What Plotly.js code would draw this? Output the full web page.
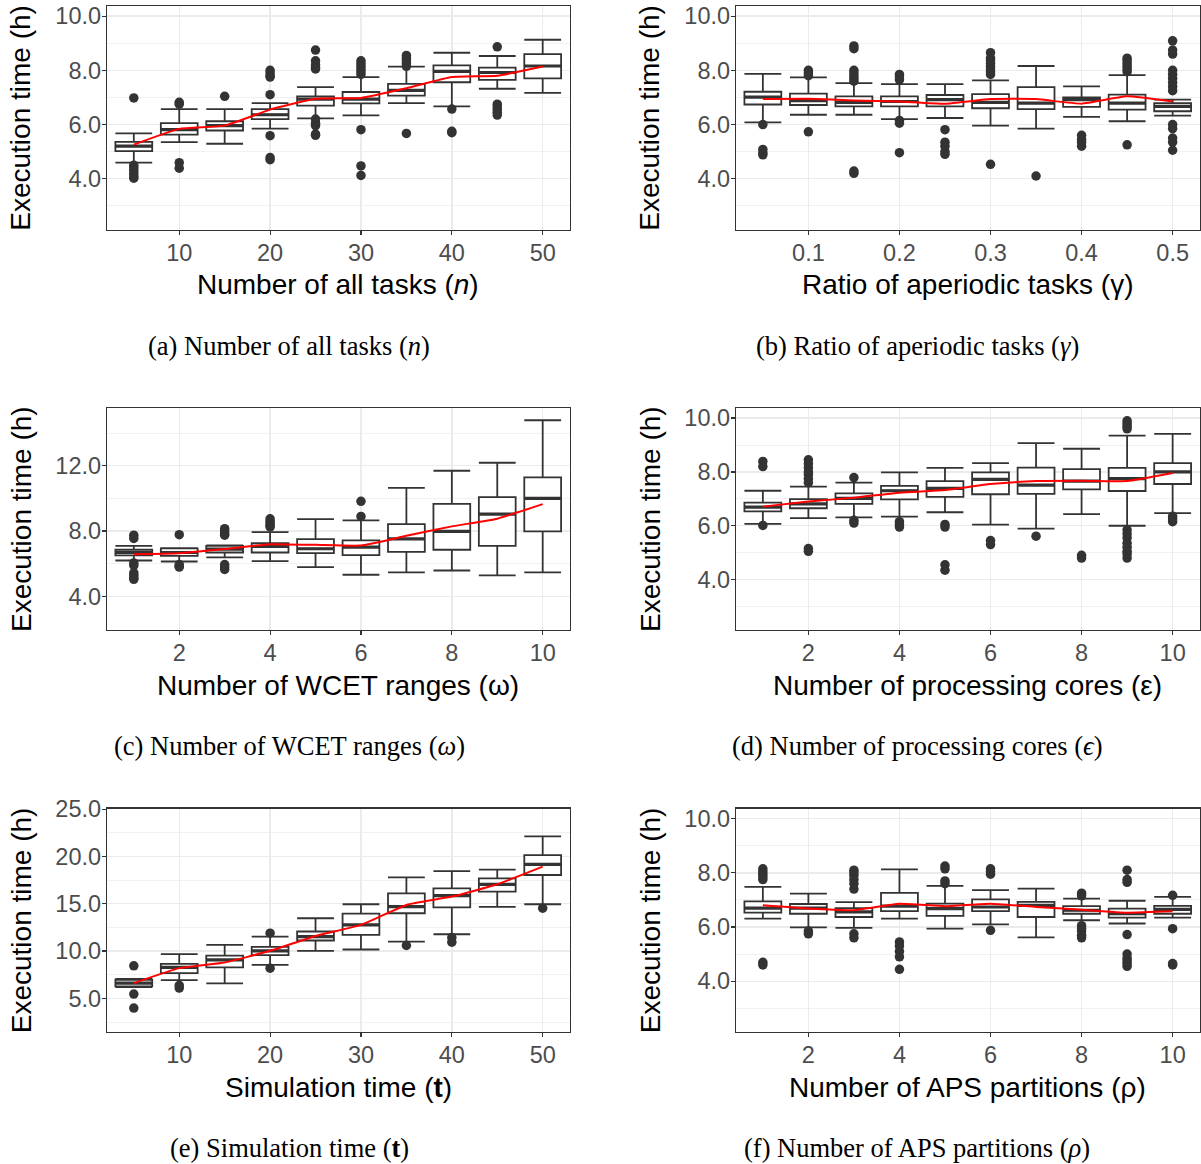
<!DOCTYPE html>
<html>
<head>
<meta charset="utf-8">
<script src="https://cdn.plot.ly/plotly-3.0.1.min.js"></script>
<style>
  html, body { margin: 0; padding: 0; background: #ffffff; }
  #chart { width: 1201px; height: 1164px; }
</style>
</head>
<body>
<div id="chart"></div>
<script>
// ---------- (a) number of all tasks ----------
const xA    = [5, 10, 15, 20, 25, 30, 35, 40, 45, 50];
const q1A   = [5.02, 5.63, 5.78, 6.20, 6.70, 6.78, 7.07, 7.56, 7.65, 7.70];
const medA  = [5.20, 5.81, 5.96, 6.36, 6.94, 6.94, 7.26, 7.96, 7.92, 8.16];
const q3A   = [5.36, 6.05, 6.12, 6.57, 7.04, 7.20, 7.50, 8.18, 8.10, 8.60];
const loA   = [4.59, 5.35, 5.29, 5.85, 6.23, 6.34, 6.79, 6.67, 7.32, 7.17];
const hiA   = [5.67, 6.57, 6.57, 6.79, 7.38, 7.75, 8.14, 8.65, 8.53, 9.13];
const meanA = [5.26, 5.84, 5.96, 6.55, 6.95, 6.98, 7.34, 7.75, 7.80, 8.14];
const outA  = [[6.98, 4.50, 4.40, 4.30, 4.20, 4.10, 4.02], [6.82, 6.75, 4.59, 4.39], [7.04],
               [8.00, 7.90, 7.80, 7.75, 7.10, 5.59, 4.78, 4.70],
               [8.75, 8.35, 8.20, 8.10, 8.05, 6.20, 6.05, 5.96, 5.65, 5.60],
               [8.35, 8.25, 8.15, 8.05, 7.95, 7.85, 5.81, 4.47, 4.12],
               [8.55, 8.45, 8.35, 8.25, 8.15, 5.67], [6.57, 5.75, 5.70],
               [8.87, 6.75, 6.65, 6.55, 6.45, 6.35], []];

// ---------- (b) ratio of aperiodic tasks ----------
const xB    = [0.05, 0.10, 0.15, 0.20, 0.25, 0.30, 0.35, 0.40, 0.45, 0.50];
const q1B   = [6.74, 6.72, 6.67, 6.67, 6.67, 6.60, 6.57, 6.65, 6.55, 6.49];
const medB  = [7.01, 6.88, 6.82, 6.85, 6.92, 6.82, 6.79, 6.92, 6.79, 6.67];
const q3B   = [7.21, 7.14, 7.04, 7.04, 7.09, 7.12, 7.38, 7.00, 7.10, 6.79];
const loB   = [6.08, 6.36, 6.36, 6.20, 6.24, 5.96, 5.85, 6.28, 6.12, 6.33];
const hiB   = [7.87, 7.74, 7.53, 7.49, 7.49, 7.63, 8.16, 7.41, 7.82, 6.92];
const meanB = [6.94, 6.95, 6.89, 6.85, 6.77, 6.94, 6.94, 6.77, 7.04, 6.85];
const outB  = [[6.00, 5.08, 4.95, 4.88], [8.00, 7.90, 7.80, 5.73],
               [8.90, 8.80, 8.00, 7.90, 7.80, 7.70, 7.60, 4.28, 4.20],
               [7.85, 7.75, 7.65, 6.15, 6.05, 4.96], [5.81, 5.35, 5.20, 5.00, 4.90],
               [8.65, 8.45, 8.35, 8.25, 8.15, 8.05, 7.95, 7.85, 4.53], [4.10],
               [5.60, 5.45, 5.35, 5.20], [8.45, 8.35, 8.25, 8.15, 8.05, 7.95, 5.25],
               [9.09, 8.75, 8.60, 8.00, 7.85, 7.70, 7.55, 7.40, 7.25, 6.00, 5.85, 5.50, 5.35, 5.05]];

// ---------- (c) number of WCET ranges ----------
const xC    = [1, 2, 3, 4, 5, 6, 7, 8, 9, 10];
const q1C   = [6.51, 6.49, 6.69, 6.69, 6.65, 6.53, 6.73, 6.86, 7.10, 7.98];
const medC  = [6.69, 6.69, 6.90, 7.06, 6.92, 7.02, 7.53, 7.98, 9.04, 10.00];
const q3C   = [6.86, 6.94, 7.10, 7.27, 7.51, 7.43, 8.43, 9.67, 10.08, 11.29];
const loC   = [6.20, 6.14, 6.39, 6.16, 5.80, 5.33, 5.47, 5.59, 5.29, 5.47];
const hiC   = [7.10, 6.96, 7.12, 7.94, 8.73, 8.65, 10.65, 11.69, 12.18, 14.78];
const meanC = [6.59, 6.65, 6.90, 7.20, 7.16, 7.12, 7.71, 8.29, 8.76, 9.65];
const outC  = [[7.75, 7.55, 6.05, 5.90, 5.45, 5.30, 5.15, 5.05], [7.78, 5.95, 5.85, 5.80],
               [8.15, 8.00, 7.85, 7.75, 5.95, 5.80, 5.65], [8.75, 8.60, 8.45, 8.35, 8.25],
               [], [9.82, 8.90], [], [], [], []];

// ---------- (d) number of processing cores ----------
const xD    = [1, 2, 3, 4, 5, 6, 7, 8, 9, 10];
const q1D   = [6.53, 6.65, 6.81, 6.98, 7.07, 7.17, 7.18, 7.35, 7.29, 7.55];
const medD  = [6.69, 6.81, 7.02, 7.30, 7.39, 7.72, 7.51, 7.66, 7.75, 8.00];
const q3D   = [6.86, 6.99, 7.20, 7.48, 7.66, 7.98, 8.16, 8.10, 8.15, 8.33];
const loD   = [6.07, 6.28, 6.31, 6.34, 6.50, 6.04, 5.89, 6.43, 6.00, 6.47];
const hiD   = [7.30, 7.45, 7.60, 7.98, 8.15, 8.33, 9.07, 8.86, 9.35, 9.41];
const meanD = [6.71, 6.90, 7.04, 7.23, 7.33, 7.55, 7.66, 7.67, 7.66, 7.96];
const outD  = [[8.39, 8.20, 6.01], [8.45, 8.30, 8.15, 8.00, 7.90, 7.75, 7.60, 5.15, 5.05],
               [7.79, 6.20, 6.10], [6.15, 6.05, 5.95], [6.05, 5.95, 4.55, 4.35], [5.45, 5.30],
               [5.61], [4.90, 4.80],
               [9.90, 9.80, 9.70, 9.60, 5.85, 5.70, 5.55, 5.35, 5.20, 5.05, 4.95, 4.80],
               [6.35, 6.25, 6.15]];

// ---------- (e) simulation time ----------
const xE    = [5, 10, 15, 20, 25, 30, 35, 40, 45, 50];
const q1E   = [6.27, 7.67, 8.27, 9.57, 11.12, 11.71, 14.00, 14.63, 16.28, 18.04];
const medE  = [6.62, 8.27, 9.08, 10.03, 11.54, 12.77, 14.70, 15.86, 17.06, 19.17];
const q3E   = [6.97, 8.66, 9.53, 10.45, 12.07, 13.96, 16.11, 16.63, 17.69, 20.15];
const loE   = [6.20, 6.93, 6.58, 8.55, 10.03, 10.17, 11.01, 11.78, 14.67, 14.95];
const hiE   = [7.05, 9.67, 10.66, 11.54, 13.47, 14.95, 17.79, 18.46, 18.60, 22.12];
const meanE = [6.62, 8.20, 8.80, 10.03, 11.60, 12.77, 14.88, 15.76, 17.06, 18.92];
const outE  = [[8.44, 5.46, 3.98], [6.37, 6.09], [], [11.89, 8.20], [], [], [10.59],
               [11.43, 10.94], [], [14.53]];

// ---------- (f) number of APS partitions ----------
const xF    = [1, 2, 3, 4, 5, 6, 7, 8, 9, 10];
const q1F   = [6.53, 6.49, 6.37, 6.59, 6.41, 6.59, 6.37, 6.49, 6.35, 6.49];
const medF  = [6.70, 6.70, 6.56, 6.77, 6.68, 6.74, 6.80, 6.62, 6.49, 6.65];
const q3F   = [6.95, 6.85, 6.70, 7.26, 6.86, 7.02, 6.93, 6.77, 6.68, 6.78];
const loF   = [6.31, 5.99, 5.97, 6.31, 5.94, 6.10, 5.62, 6.25, 6.13, 6.35];
const hiF   = [7.48, 7.23, 6.92, 8.13, 7.52, 7.36, 7.42, 7.05, 6.97, 7.11];
const meanF = [6.80, 6.68, 6.62, 6.86, 6.77, 6.86, 6.74, 6.64, 6.53, 6.58];
const outF  = [[8.15, 8.05, 7.95, 7.85, 7.75, 4.70, 4.60], [5.85, 5.75],
               [8.10, 8.00, 7.90, 7.75, 7.60, 7.40, 5.75, 5.60], [5.45, 5.30, 5.10, 4.90, 4.44],
               [8.25, 8.15, 7.70, 7.60], [8.15, 8.05, 7.95, 5.88], [],
               [7.25, 7.15, 6.05, 5.95, 5.85, 5.70, 5.60],
               [8.10, 7.75, 7.65, 5.72, 5.00, 4.85, 4.75, 4.65, 4.55], [7.17, 5.94, 4.65, 4.60]];

// ---------- labels ----------
const yTitle = 'Execution time (h)';
const xTitles = ['Number of all tasks (<i>n</i>)', 'Ratio of aperiodic tasks (γ)',
                 'Number of WCET ranges (ω)', 'Number of processing cores (ε)',
                 'Simulation time (<b>t</b>)', 'Number of APS partitions (ρ)'];
const captions = ['(a) Number of all tasks (<i>n</i>)', '(b) Ratio of aperiodic tasks (<i>γ</i>)',
                  '(c) Number of WCET ranges (<i>ω</i>)', '(d) Number of processing cores (<i>ϵ</i>)',
                  '(e) Simulation time (<b>t</b>)', '(f) Number of APS partitions (<i>ρ</i>)'];

// ---------- page geometry (pixels) ----------
const W = 1201, H = 1164;
const cols = [[107, 569.5], [736, 1199.5]];
const rows = [[6, 229.5], [408, 630], [808.5, 1032]];
const yTitleX = [21, 650];
const captionX = [289, 917];
const xTitleGap = 55, captionGap = 116;

const panels = [
  {x: xA, q1: q1A, med: medA, q3: q3A, lo: loA, hi: hiA, mean: meanA, out: outA,
   col: 0, row: 0, xr: [2.05, 52.95], yr: [2.125, 10.375], ydt: 2, ymin: 1, xdt: 10, xfmt: '', w: 4.05},
  {x: xB, q1: q1B, med: medB, q3: q3B, lo: loB, hi: hiB, mean: meanB, out: outB,
   col: 1, row: 0, xr: [0.0205, 0.5295], yr: [2.125, 10.375], ydt: 2, ymin: 1, xdt: 0.1, xfmt: '.1f', w: 0.0405},
  {x: xC, q1: q1C, med: medC, q3: q3C, lo: loC, hi: hiC, mean: meanC, out: outC,
   col: 0, row: 1, xr: [0.41, 10.59], yr: [1.95, 15.53], ydt: 4, ymin: 2, xdt: 2, xfmt: '', w: 0.81},
  {x: xD, q1: q1D, med: medD, q3: q3D, lo: loD, hi: hiD, mean: meanD, out: outD,
   col: 1, row: 1, xr: [0.41, 10.59], yr: [2.125, 10.375], ydt: 2, ymin: 1, xdt: 2, xfmt: '', w: 0.81},
  {x: xE, q1: q1E, med: medE, q3: q3E, lo: loE, hi: hiE, mean: meanE, out: outE,
   col: 0, row: 2, xr: [2.05, 52.95], yr: [1.45, 25.07], ydt: 5, ymin: 2.5, xdt: 10, xfmt: '', w: 4.05},
  {x: xF, q1: q1F, med: medF, q3: q3F, lo: loF, hi: hiF, mean: meanF, out: outF,
   col: 1, row: 2, xr: [0.41, 10.59], yr: [2.125, 10.375], ydt: 2, ymin: 1, xdt: 2, xfmt: '', w: 0.81}
];

const ink = '#333333';
const sans = 'Liberation Sans, Arial, Helvetica, sans-serif';
const serif = 'Liberation Serif, Times New Roman, serif';

const traces = [];
const layout = {
  width: W, height: H,
  margin: {l: 0, r: 0, t: 0, b: 0},
  paper_bgcolor: '#ffffff', plot_bgcolor: '#ffffff',
  showlegend: false, hovermode: false,
  annotations: []
};

panels.forEach((p, i) => {
  const sfx = i === 0 ? '' : String(i + 1);
  const xa = 'x' + sfx, ya = 'y' + sfx;
  const [L, R] = cols[p.col];
  const [T, B] = rows[p.row];

  // boxes and whiskers
  traces.push({
    type: 'box', xaxis: xa, yaxis: ya,
    x: p.x, q1: p.q1, median: p.med, q3: p.q3,
    lowerfence: p.lo, upperfence: p.hi,
    width: p.w, whiskerwidth: 1, boxpoints: false,
    fillcolor: '#ffffff', line: {color: ink, width: 1.8},
    hoverinfo: 'skip'
  });

  // heavier median bars
  const mx = [], my = [];
  p.x.forEach((xv, k) => { mx.push(xv - p.w / 2, xv + p.w / 2, null); my.push(p.med[k], p.med[k], null); });
  traces.push({type: 'scatter', mode: 'lines', xaxis: xa, yaxis: ya, x: mx, y: my,
               line: {color: ink, width: 3.2}, hoverinfo: 'skip'});

  // outliers
  const ox = [], oy = [];
  p.out.forEach((vals, k) => vals.forEach(v => { ox.push(p.x[k]); oy.push(v); }));
  traces.push({type: 'scatter', mode: 'markers', xaxis: xa, yaxis: ya, x: ox, y: oy,
               marker: {color: ink, size: 9.5}, hoverinfo: 'skip'});

  // mean trend
  traces.push({type: 'scatter', mode: 'lines', xaxis: xa, yaxis: ya, x: p.x, y: p.mean,
               line: {color: '#ff0000', width: 2, shape: 'spline', smoothing: 0.4}, hoverinfo: 'skip'});

  const common = {
    showline: true, mirror: true, linecolor: ink, linewidth: 1.2,
    ticks: 'outside', ticklen: 4, tickwidth: 1.2, tickcolor: ink,
    tickfont: {family: sans, size: 23.5, color: '#4d4d4d'},
    showgrid: true, gridcolor: '#ebebeb', gridwidth: 1.4,
    zeroline: false, fixedrange: true
  };

  layout['xaxis' + sfx] = Object.assign({}, common, {
    domain: [L / W, R / W], anchor: ya, range: p.xr,
    tick0: 0, dtick: p.xdt, tickformat: p.xfmt, ticklabelstandoff: -2
  });
  layout['yaxis' + sfx] = Object.assign({}, common, {
    domain: [1 - B / H, 1 - T / H], anchor: xa, range: p.yr,
    tick0: 0, dtick: p.ydt, tickformat: '.1f', ticklabelstandoff: -4,
    minor: {tick0: 0, dtick: p.ymin, showgrid: true, gridcolor: '#ebebeb', gridwidth: 0.7, ticks: ''}
  });

  // axis titles
  layout.annotations.push({
    xref: 'paper', yref: 'paper', x: yTitleX[p.col] / W, y: 1 - ((T + B) / 2) / H,
    xanchor: 'center', yanchor: 'middle', textangle: -90, showarrow: false,
    text: yTitle, font: {family: sans, size: 28, color: '#000000'}
  });
  layout.annotations.push({
    xref: 'paper', yref: 'paper', x: ((L + R) / 2) / W, y: 1 - (B + xTitleGap) / H,
    xanchor: 'center', yanchor: 'middle', showarrow: false,
    text: xTitles[i], font: {family: sans, size: 28, color: '#000000'}
  });
  // sub-figure caption
  layout.annotations.push({
    xref: 'paper', yref: 'paper', x: captionX[p.col] / W, y: 1 - (B + captionGap) / H,
    xanchor: 'center', yanchor: 'middle', showarrow: false,
    text: captions[i], font: {family: serif, size: 26.5, color: '#000000'}
  });
});

Plotly.newPlot('chart', traces, layout, {staticPlot: true, displayModeBar: false});
</script>
</body>
</html>
